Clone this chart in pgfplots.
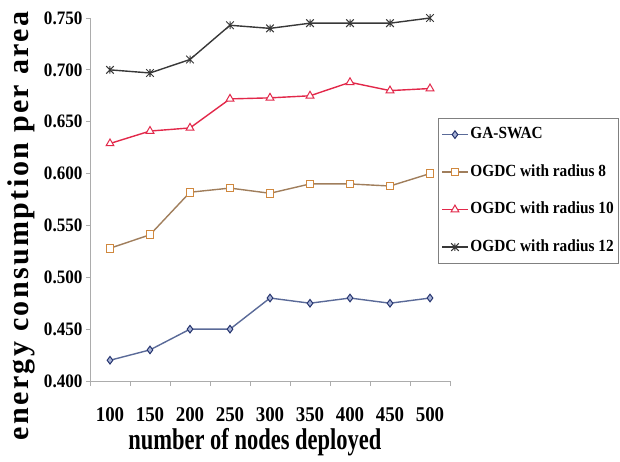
\documentclass[border=0pt]{standalone}
\usepackage{pgfplots}
\pgfplotsset{compat=1.18}
\usepackage{fontspec}
\setmainfont{Liberation Serif}
\newfontfamily\ylabfont[LetterSpace=8]{Liberation Serif}
\newfontfamily\condfont[FakeStretch=0.75]{Liberation Serif}
\newfontfamily\legfont[FakeStretch=0.9]{Liberation Serif}
\newfontfamily\tickfont[FakeStretch=0.9]{Liberation Serif}
\newcommand{\tl}[1]{\textbf{\tickfont #1}}
\definecolor{gablue}{HTML}{5A6A98}
\definecolor{ganavy}{HTML}{26346E}
\definecolor{gafill}{HTML}{A8B4D8}
\definecolor{oline}{HTML}{A07E5C}
\definecolor{omark}{HTML}{D0883E}
\definecolor{rred}{HTML}{E2284A}
\definecolor{kgray}{HTML}{383838}
\pgfdeclareplotmark{exstar}{%
  \pgfpathmoveto{\pgfqpoint{-\pgfplotmarksize}{-\pgfplotmarksize}}%
  \pgfpathlineto{\pgfqpoint{\pgfplotmarksize}{\pgfplotmarksize}}%
  \pgfpathmoveto{\pgfqpoint{-\pgfplotmarksize}{\pgfplotmarksize}}%
  \pgfpathlineto{\pgfqpoint{\pgfplotmarksize}{-\pgfplotmarksize}}%
  \pgfpathmoveto{\pgfqpoint{0pt}{-\pgfplotmarksize}}%
  \pgfpathlineto{\pgfqpoint{0pt}{\pgfplotmarksize}}%
  \pgfusepathqstroke}
\begin{document}
\begin{tikzpicture}
\begin{axis}[
  scale only axis, width=360pt, height=363pt,
  xmin=-0.5, xmax=8.5, ymin=0.4, ymax=0.75,
  axis lines=left,
  axis line style={draw=gray!65, line width=0.8pt, -},
  xtick={0,1,2,3,4,5,6,7,8},
  xticklabels={\tl{100},\tl{150},\tl{200},\tl{250},\tl{300},\tl{350},\tl{400},\tl{450},\tl{500}},
  minor xtick={-0.5,0.5,1.5,2.5,3.5,4.5,5.5,6.5,7.5,8.5},
  ytick={0.40,0.45,0.50,0.55,0.60,0.65,0.70,0.75},
  yticklabels={\tl{0.400},\tl{0.450},\tl{0.500},\tl{0.550},\tl{0.600},\tl{0.650},\tl{0.700},\tl{0.750}},
  tick align=outside,
  major x tick style={draw=none},
  minor tick length=5pt, major tick length=4pt,
  tick style={draw=gray!65, line width=0.8pt},
  xticklabel style={font=\tickfont\bfseries\fontsize{21}{23}\selectfont, yshift=-19pt},
  yticklabel style={font=\tickfont\bfseries\fontsize{19}{21}\selectfont},
  xlabel={number of nodes deployed},
  xlabel style={at={(axis description cs:0.458,-0.168)}, anchor=center,
    font=\condfont\bfseries\fontsize{30}{32}\selectfont},
  ylabel={energy consumption per area},
  ylabel style={at={(axis description cs:-0.19,0.427)}, anchor=center,
    font=\ylabfont\bfseries\fontsize{30}{32}\selectfont},
  clip=false,
  legend cell align=left,
  legend image code/.code={\draw[mark repeat=2,mark phase=2,#1] plot coordinates {(0cm,0cm)(0.45cm,0cm)(0.9cm,0cm)};},
  legend style={at={(rel axis cs:0.967,0.7245)}, anchor=north west,
    draw=gray, line width=0.7pt,
    font=\legfont\bfseries\fontsize{17}{19}\selectfont,
    inner xsep=3pt, inner ysep=6pt, row sep=17pt,
    nodes={text height=12.5pt, text depth=4pt, inner sep=2pt}},
]
\addplot[color=gablue, line width=1.4pt, mark=diamond*, mark size=3.8pt,
  mark options={draw=ganavy, fill=gafill, line width=1pt}]
  coordinates {(0,0.420)(1,0.430)(2,0.450)(3,0.450)(4,0.480)(5,0.475)(6,0.480)(7,0.475)(8,0.480)};
\addlegendentry{GA-SWAC}
\addplot[color=oline, line width=1.4pt, mark=square*, mark size=3.8pt,
  mark options={draw=omark, fill=white, line width=1pt}]
  coordinates {(0,0.528)(1,0.541)(2,0.582)(3,0.586)(4,0.581)(5,0.590)(6,0.590)(7,0.588)(8,0.600)};
\addlegendentry{OGDC with radius 8}
\addplot[color=rred, line width=1.4pt, mark=triangle*, mark size=4.5pt,
  mark options={draw=rred, fill=white, line width=1pt}]
  coordinates {(0,0.629)(1,0.641)(2,0.644)(3,0.672)(4,0.673)(5,0.675)(6,0.688)(7,0.680)(8,0.682)};
\addlegendentry{OGDC with radius 10}
\addplot[color=kgray, line width=1.4pt, mark=exstar, mark size=3.8pt,
  mark options={line width=1pt}]
  coordinates {(0,0.700)(1,0.697)(2,0.710)(3,0.743)(4,0.740)(5,0.745)(6,0.745)(7,0.745)(8,0.750)};
\addlegendentry{OGDC with radius 12}
\end{axis}
\pgfresetboundingbox
\useasboundingbox (-90pt,-80pt) rectangle (530pt,381pt);
\end{tikzpicture}
\end{document}
